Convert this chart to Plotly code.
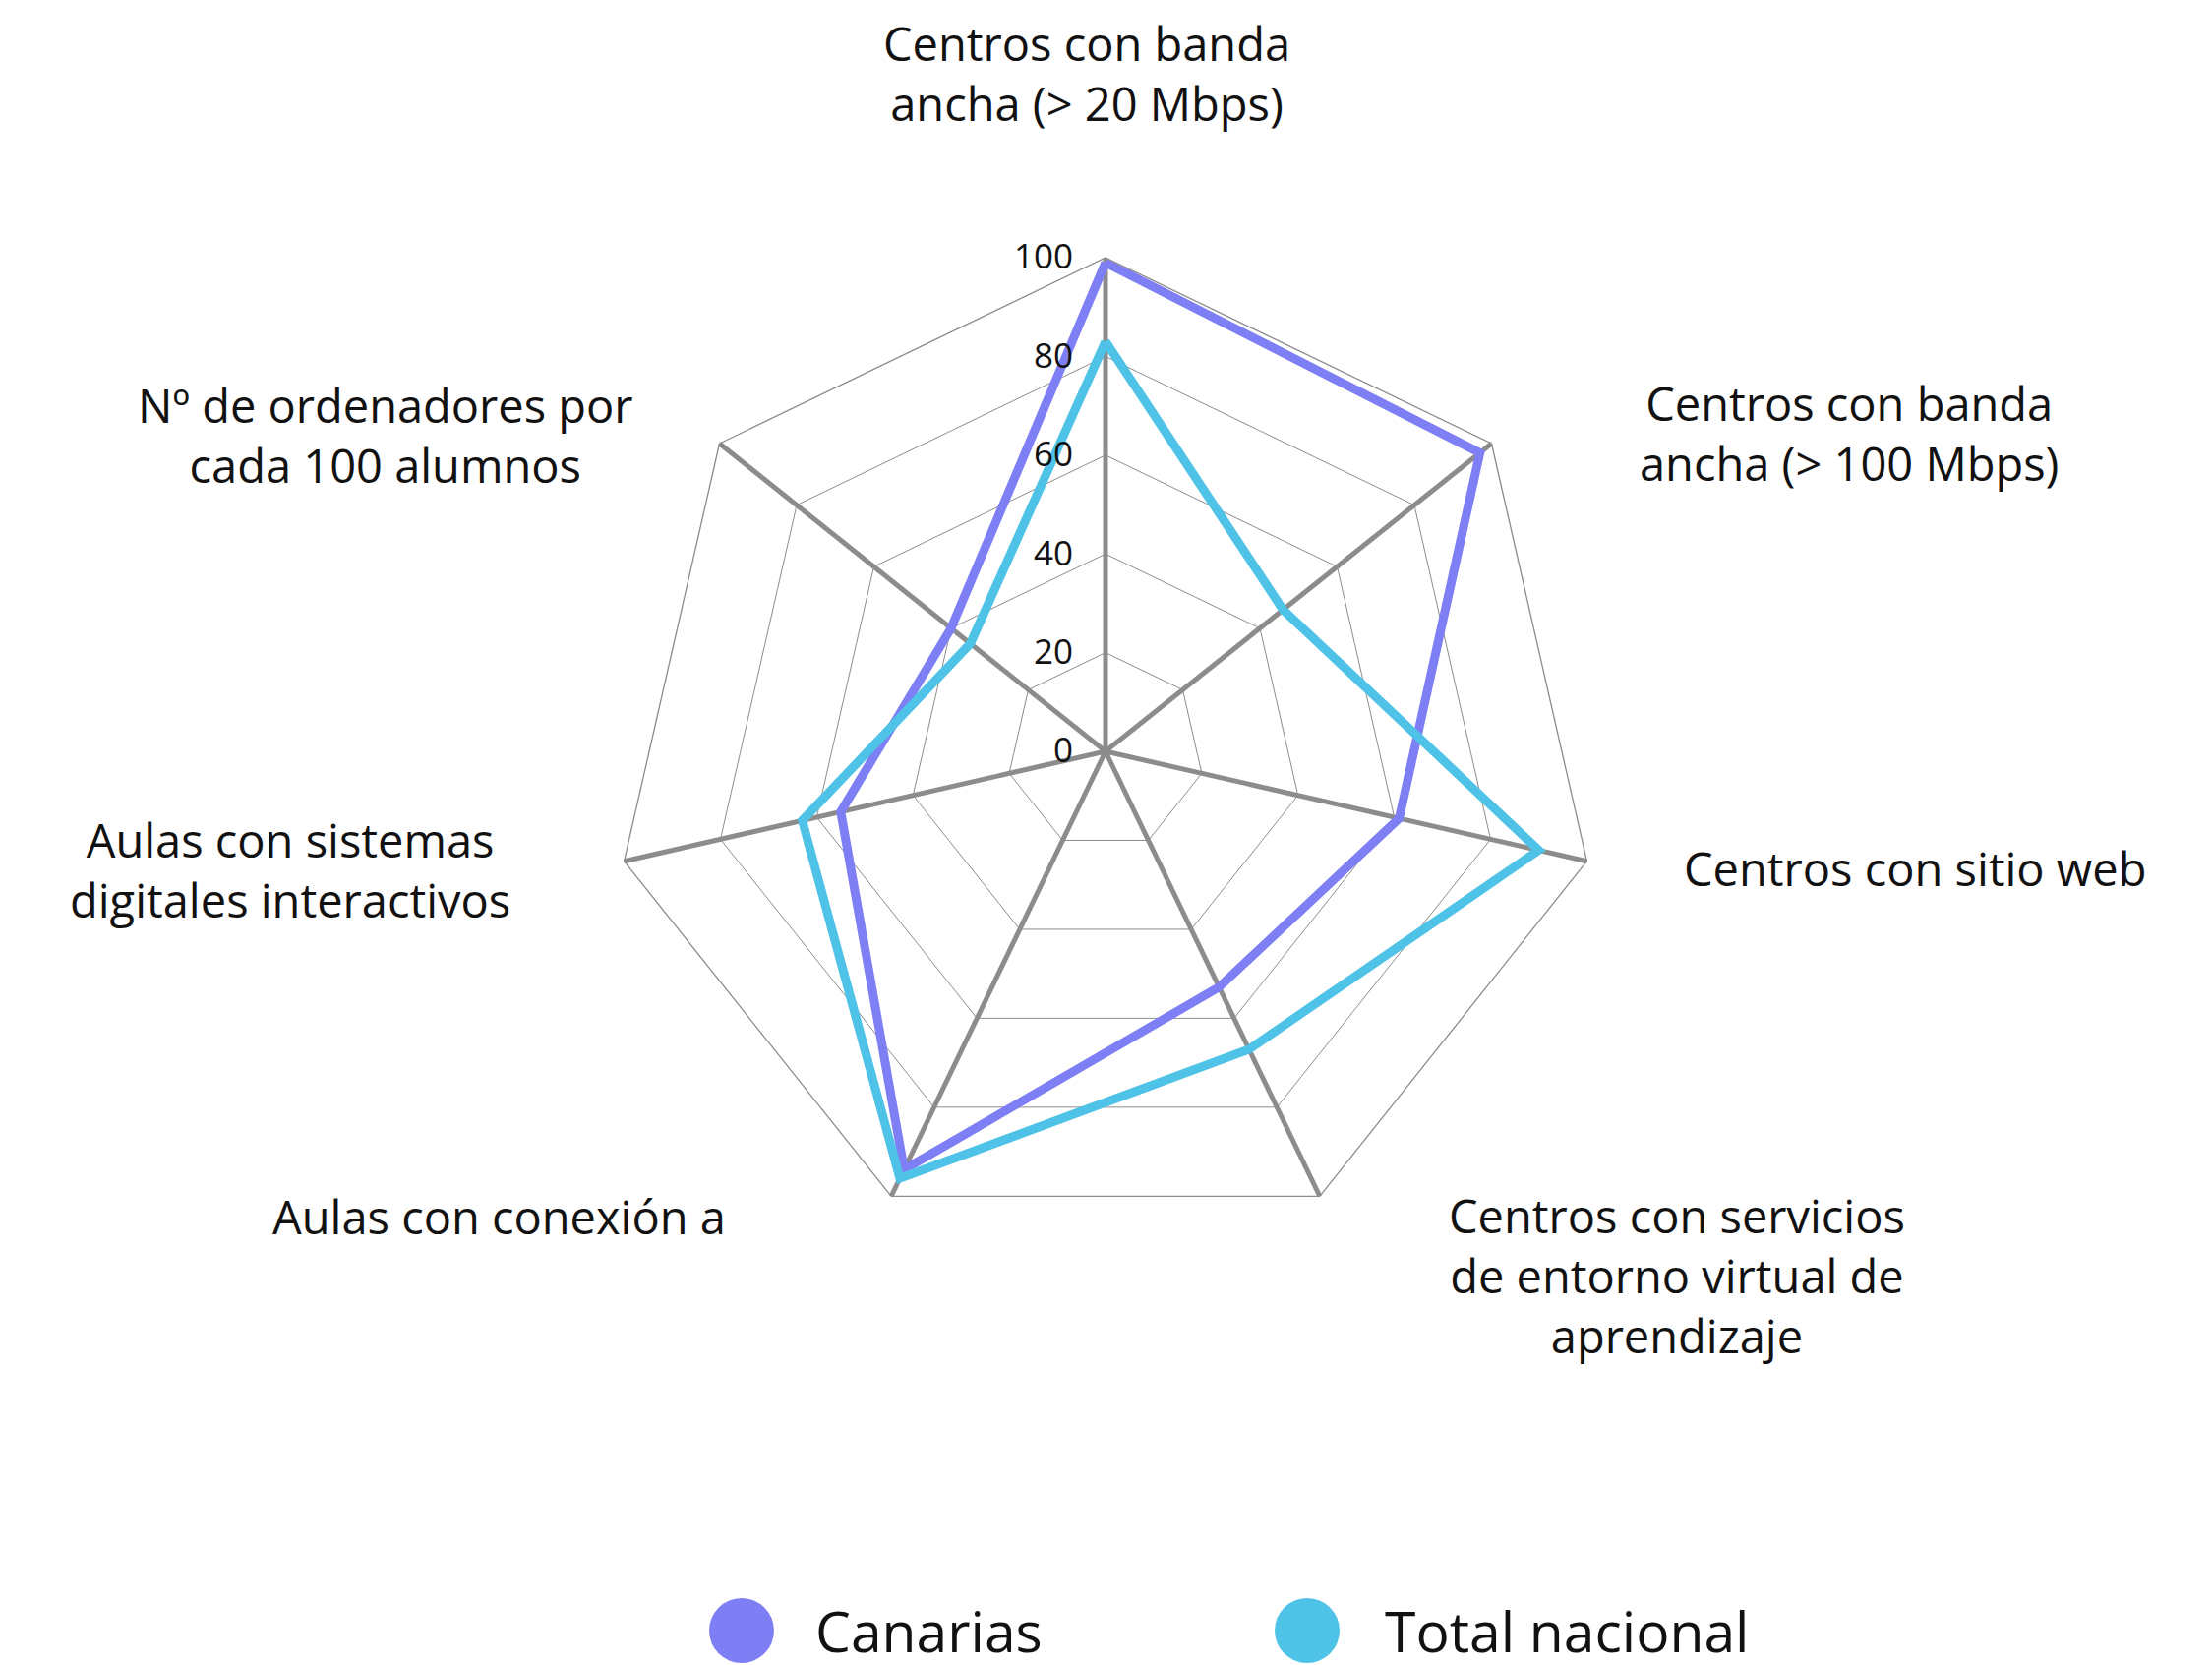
import plotly.graph_objects as go

categories = [
    "Centros con banda<br>ancha (> 20 Mbps)",
    "Centros con banda<br>ancha (> 100 Mbps)",
    "Centros con sitio web",
    "Centros con servicios<br>de entorno virtual de<br>aprendizaje",
    "Aulas con conexión a",
    "Aulas con sistemas<br>digitales interactivos",
    "Nº de ordenadores por<br>cada 100 alumnos",
]
series_names = ["Canarias", "Total nacional"]
canarias = [99, 97, 61, 53, 94, 55, 40]
total_nacional = [83, 46, 90, 67, 96, 63, 35]
tick_values = [0, 20, 40, 60, 80, 100]
colors = ["#7F7FF5", "#4FC3E7"]

FONT = "Open Sans"
TICK_SIZE = 35

fig = go.Figure()
for name, vals, col in zip(series_names, [canarias, total_nacional], colors):
    fig.add_trace(go.Scatterpolar(
        r=vals + vals[:1],
        theta=categories + categories[:1],
        mode="lines",
        line=dict(color=col, width=9),
        name=name,
        showlegend=False,
    ))

W, H = 2249, 1693
cx, cy, R = 1116, 756, 502

fig.update_layout(
    width=W, height=H,
    margin=dict(l=0, r=0, t=0, b=0),
    paper_bgcolor="white",
    plot_bgcolor="white",
    font=dict(family=FONT, color="#111111"),
    polar=dict(
        domain=dict(x=[(cx - R) / W, (cx + R) / W],
                    y=[(H - cy - R) / H, (H - cy + R) / H]),
        gridshape="linear",
        bgcolor="white",
        radialaxis=dict(
            range=[0, 100],
            tickvals=tick_values,
            ticktext=[str(v) + "\u00a0\u00a0\u00a0" for v in tick_values],
            angle=90,
            tickangle=90,
            side="counterclockwise",
            showline=False,
            ticks="",
            gridcolor="#8c8c8c",
            gridwidth=1.3,
            tickfont=dict(size=TICK_SIZE, family=FONT, color="#111111"),
        ),
        angularaxis=dict(
            direction="clockwise",
            rotation=90,
            showticklabels=False,
            ticks="",
            gridcolor="#8c8c8c",
            gridwidth=4.5,
            showline=True,
            linecolor="#8c8c8c",
            linewidth=1.3,
        ),
    ),
)

# category labels placed around the chart
label_pos = [
    (1097, 66), (1872, 433), (1939, 875), (1697, 1289),
    (499, 1229), (287, 876), (384, 434),
]
annotations = []
for text, (px, py) in zip(categories, label_pos):
    annotations.append(dict(
        text=text, x=px / W, y=1 - py / H, xref="paper", yref="paper",
        xanchor="center", yanchor="middle", align="center", showarrow=False,
        font=dict(size=47, family=FONT, color="#111111"),
    ))

# legend
legend_items = [(746, 819), (1321, 1398)]
leg_y = 1650
shapes = []
for name, col, (ccx, tx) in zip(series_names, colors, legend_items):
    shapes.append(dict(
        type="circle", xref="paper", yref="paper",
        xsizemode="pixel", ysizemode="pixel",
        xanchor=ccx / W, yanchor=1 - leg_y / H,
        x0=-33, x1=33, y0=-33, y1=33,
        fillcolor=col, line=dict(width=0),
    ))
    annotations.append(dict(
        text=name, x=tx / W, y=1 - leg_y / H, xref="paper", yref="paper",
        xanchor="left", yanchor="middle", showarrow=False,
        font=dict(size=57, family=FONT, color="#111111"),
    ))

fig.update_layout(annotations=annotations, shapes=shapes)
fig.write_html("out.html")
